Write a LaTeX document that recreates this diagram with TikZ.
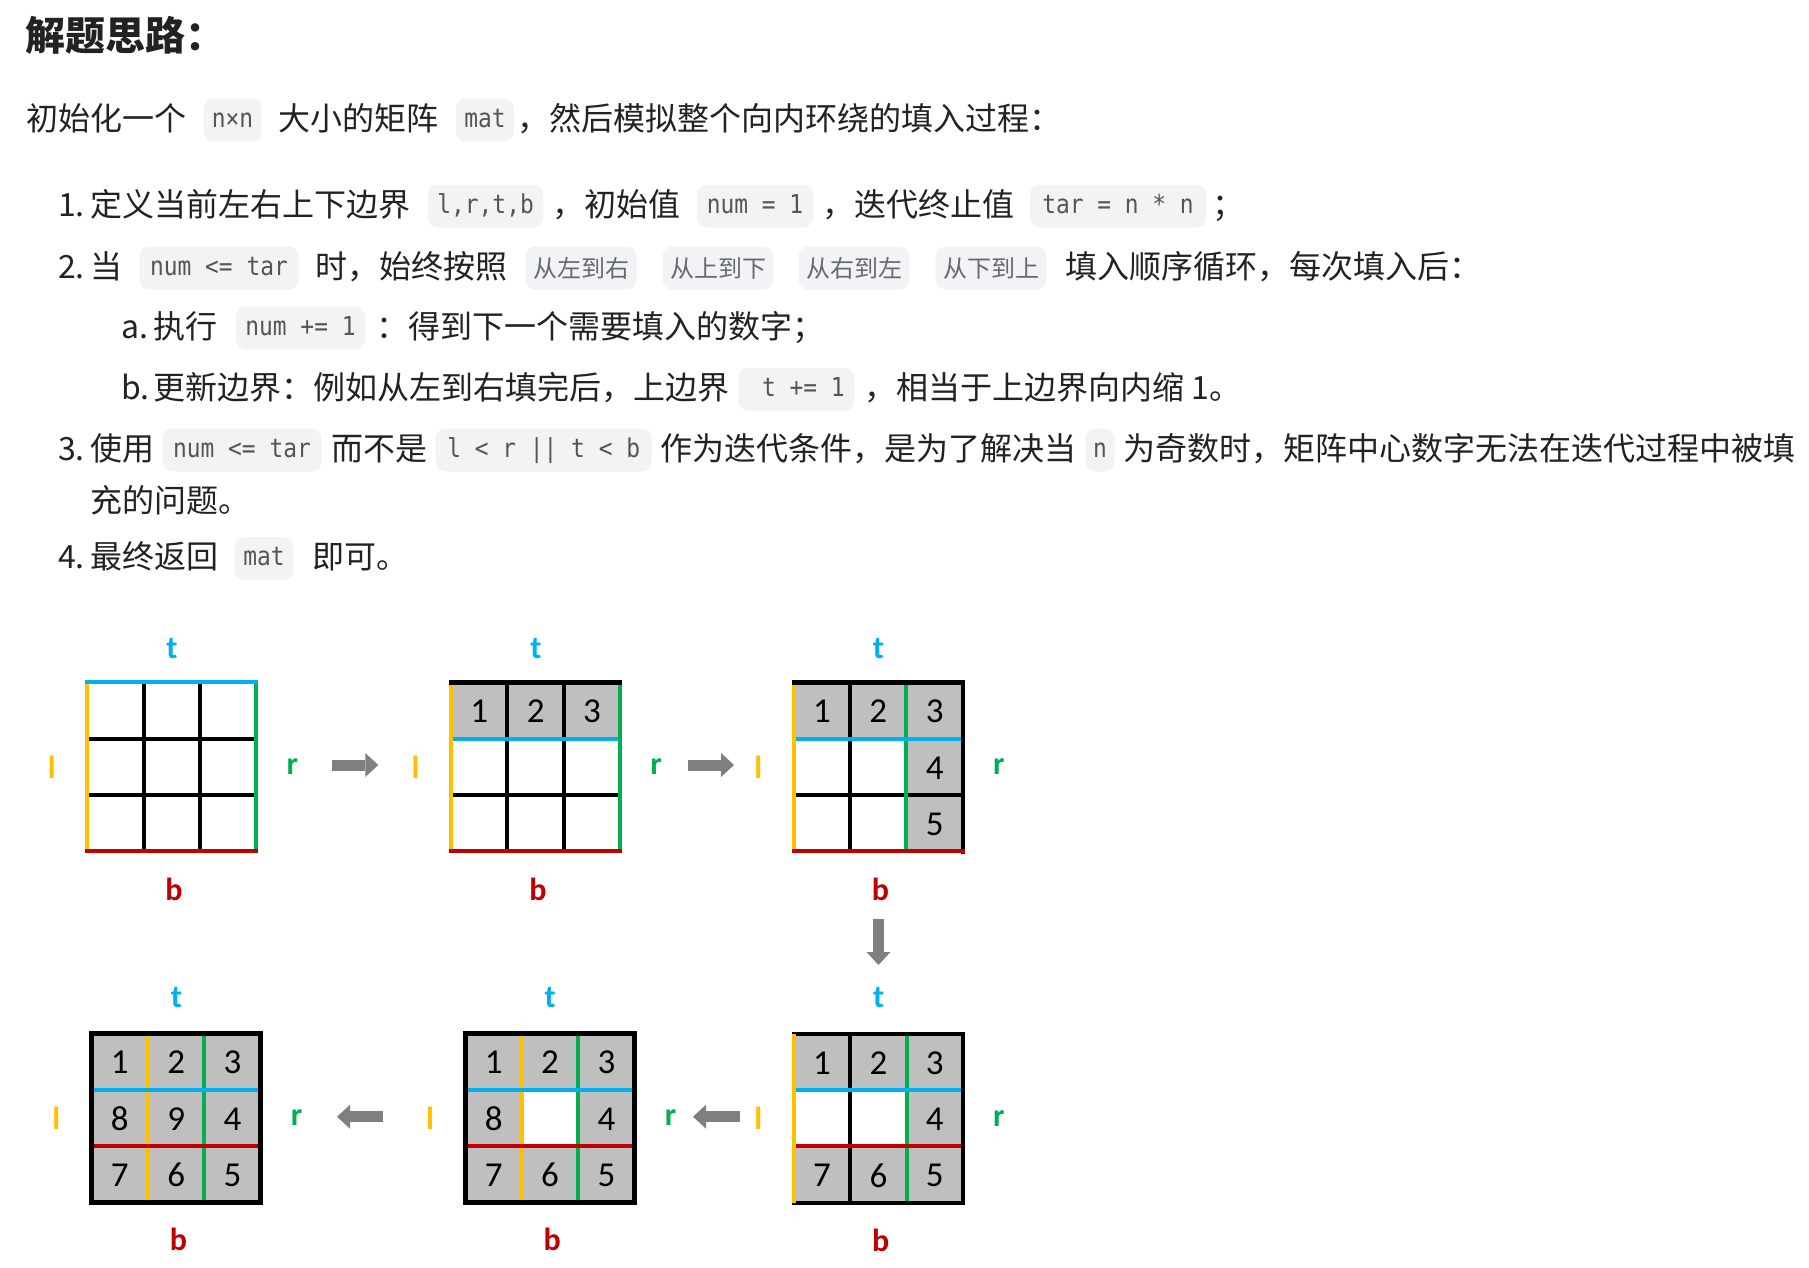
\documentclass[tikz,border=0pt]{standalone}
\usepackage{fontspec}
\setmainfont{Noto Sans CJK SC}
\newfontfamily\codefont{DejaVu Sans Mono}[FakeStretch=0.88]
\newfontfamily\calfont{Carlito}
\usetikzlibrary{calc,arrows.meta}
\definecolor{bodyc}{HTML}{222222}
\definecolor{codetxt}{HTML}{555555}
\definecolor{cjkcodetxt}{HTML}{646A73}
\definecolor{codebg}{HTML}{F2F3F5}
\definecolor{tcol}{HTML}{00B0F0}
\definecolor{lcol}{HTML}{FFC000}
\definecolor{rcol}{HTML}{00B050}
\definecolor{bcol}{HTML}{C00000}
\definecolor{cellg}{HTML}{BFBFBF}
\definecolor{arrg}{HTML}{7F7F7F}
\def\cw{56.333}
\def\gs{169}
\newcommand\gridlbl[3]{%
 \node[edgelab,text=tcol] (#1t) at ($(#1.north)+(0,-#2)$) {t};
 \node[edgelab,text=bcol] (#1b) at ($(#1.south)+(2,#3)$) {b};
 \node[edgelab,text=lcol] (#1l) at ($(#1.west)+(-35.5,0)$) {l};
 \node[edgelab,text=rcol] (#1r) at ($(#1.east)+(35.5,0)$) {r};}
\newcommand\cellnum[4]{\node[cellnumsty] (#1) at ({(#2+0.5)*\cw},{(#3+0.5)*\cw+1}) {#4};}
\newcommand\cellfill[2]{\fill[cellg] ({#1*\cw},{#2*\cw}) rectangle ++(\cw,\cw);}
\begin{document}
\begin{tikzpicture}[x=1pt,y=-1pt,
  bodytxt/.style={anchor=base west,inner sep=0pt,text=bodyc,font=\fontsize{32}{38}\selectfont},
  titletxt/.style={anchor=base west,inner sep=0pt,text=bodyc,font=\bfseries\fontsize{40}{48}\selectfont},
  codebox/.style={fill=codebg,rounded corners=10pt,minimum height=43pt,inner sep=0pt,text=codetxt,
    font=\codefont\fontsize{26}{30}\selectfont,text height=17pt,text depth=3pt},
  cjkbox/.style={codebox,minimum width=111pt,text=cjkcodetxt,font=\fontsize{24}{28}\selectfont,text height=20pt,text depth=2pt},
  gridframe/.style={minimum size=169pt,inner sep=0pt},
  edgelab/.style={inner sep=0pt,font=\calfont\bfseries\fontsize{32}{36}\selectfont},
  cellnumsty/.style={inner sep=0pt,text=black,font=\calfont\fontsize{35}{40}\selectfont},
  gin/.style={draw=black,line width=4pt},
  gout/.style={draw=black,line width=4.5pt,line cap=rect},
  ct/.style={draw=tcol,line width=4pt,line cap=rect},
  cl/.style={draw=lcol,line width=4pt,line cap=rect},
  cr/.style={draw=rcol,line width=4pt,line cap=rect},
  cb/.style={draw=bcol,line width=4pt,line cap=rect},
  blockarr/.style={draw=arrg,line width=11pt,-{Triangle[width=24pt,length=13pt,line width=0pt]}}
]
\useasboundingbox (0,0) rectangle (1809,1267);
\fill[white] (0,0) rectangle (1809,1267);

% ---------- text ----------
\node[titletxt] (title) at (25,50) {解题思路：};

\node[bodytxt] (l0a) at (26,130) {初始化一个};
\node[codebox,minimum width=58pt] (l0c1) at (232.5,120) {n×n};
\node[bodytxt] (l0b) at (278,130) {大小的矩阵};
\node[codebox,minimum width=58pt] (l0c2) at (485,120) {mat};
\node[bodytxt] (l0d) at (517,130) {，然后模拟整个向内环绕的填入过程：};

\node[bodytxt] (i1n) at (58,216) {1.};
\node[bodytxt] (i1a) at (90,216) {定义当前左右上下边界};
\node[codebox,minimum width=115.5pt] (i1c1) at (485.6,206) {l,r,t,b};
\node[bodytxt] (i1b) at (552,216) {，初始值};
\node[codebox,minimum width=116pt] (i1c2) at (755,206) {num = 1};
\node[bodytxt] (i1d) at (822,216) {，迭代终止值};
\node[codebox,minimum width=176pt] (i1c3) at (1118,206) {tar = n * n};
\node[bodytxt] (i1e) at (1212,216) {；};

\node[bodytxt] (i2n) at (58,278) {2.};
\node[bodytxt] (i2a) at (90,278) {当};
\node[codebox,minimum width=159pt] (i2c1) at (219,268) {num <= tar};
\node[bodytxt] (i2b) at (315.7,278) {时，始终按照};
\node[cjkbox] (i2c2) at (581,268) {从左到右};
\node[cjkbox] (i2c3) at (718,268) {从上到下};
\node[cjkbox] (i2c4) at (854,268) {从右到左};
\node[cjkbox] (i2c5) at (991,268) {从下到上};
\node[bodytxt] (i2d) at (1065,278) {填入顺序循环，每次填入后：};

\node[bodytxt] (ian) at (121,338) {a.};
\node[bodytxt] (iaa) at (153,338) {执行};
\node[codebox,minimum width=129pt] (iac) at (300.5,328) {num += 1};
\node[bodytxt] (iab) at (376,338) {：得到下一个需要填入的数字；};

\node[bodytxt] (ibn) at (121,399.5) {b.};
\node[bodytxt] (iba) at (153,399.5) {更新边界：例如从左到右填完后，上边界};
\node[codebox,minimum width=116pt] (ibc) at (796.5,389.5) {\ t += 1};
\node[bodytxt] (ibb) at (864,399.5) {，相当于上边界向内缩 1。};

\node[bodytxt] (i3n) at (58,460) {3.};
\node[bodytxt] (i3a) at (90,460) {使用};
\node[codebox,minimum width=159pt] (i3c1) at (242,450) {num <= tar};
\node[bodytxt] (i3b) at (331.6,460) {而不是};
\node[codebox,minimum width=216pt] (i3c2) at (543.7,450) {l < r || t < b};
\node[bodytxt] (i3d) at (660,460) {作为迭代条件，是为了解决当};
\node[codebox,minimum width=29pt] (i3c3) at (1100,450) {n};
\node[bodytxt] (i3e) at (1123,460) {为奇数时，矩阵中心数字无法在迭代过程中被填};
\node[bodytxt] (i3f) at (90,512) {充的问题。};

\node[bodytxt] (i4n) at (58,568.5) {4.};
\node[bodytxt] (i4a) at (90,568.5) {最终返回};
\node[codebox,minimum width=58.7pt] (i4c) at (264,558.5) {mat};
\node[bodytxt] (i4b) at (312.5,568.5) {即可。};

% ---------- grid frames ----------
\node[gridframe] (G1) at (172,767) {};
\node[gridframe] (G2) at (535.85,767) {};
\node[gridframe] (G3) at (878.5,767) {};
\node[gridframe] (G4) at (176.4,1118) {};
\node[gridframe] (G5) at (550.25,1118) {};
\node[gridframe] (G6) at (878.6,1118.5) {};

% G1
\begin{scope}[shift={(G1.north west)}]
\draw[gin] (\cw,0) -- (\cw,\gs) ({2*\cw},0) -- ({2*\cw},\gs) (0,\cw) -- (\gs,\cw) (0,{2*\cw}) -- (\gs,{2*\cw});
\draw[cl] (0,0) -- (0,\gs);
\draw[cr] (\gs,0) -- (\gs,\gs);
\draw[ct] (0,0) -- (\gs,0);
\draw[cb] (0,\gs) -- (\gs,\gs);
\end{scope}

% G2
\begin{scope}[shift={(G2.north west)}]
\cellfill{0}{0}\cellfill{1}{0}\cellfill{2}{0}
\cellnum{G2a}{0}{0}{1}\cellnum{G2b}{1}{0}{2}\cellnum{G2c}{2}{0}{3}
\draw[gin] (\cw,0) -- (\cw,\gs) ({2*\cw},0) -- ({2*\cw},\gs) (0,{2*\cw}) -- (\gs,{2*\cw});
\draw[ct] (0,\cw) -- (\gs,\cw);
\draw[cl] (0,0) -- (0,\gs);
\draw[cr] (\gs,0) -- (\gs,\gs);
\draw[cb] (0,\gs) -- (\gs,\gs);
\draw[gout] (0,0) -- (\gs,0);
\end{scope}

% G3
\begin{scope}[shift={(G3.north west)}]
\cellfill{0}{0}\cellfill{1}{0}\cellfill{2}{0}\cellfill{2}{1}\cellfill{2}{2}
\cellnum{G3a}{0}{0}{1}\cellnum{G3b}{1}{0}{2}\cellnum{G3c}{2}{0}{3}
\cellnum{G3d}{2}{1}{4}\cellnum{G3e}{2}{2}{5}
\draw[gin] (\cw,0) -- (\cw,\gs) (0,{2*\cw}) -- (\gs,{2*\cw});
\draw[cr] ({2*\cw},0) -- ({2*\cw},\gs);
\draw[ct] (0,\cw) -- (\gs,\cw);
\draw[cl] (0,0) -- (0,\gs);
\draw[gout] (0,0) -- (\gs,0) -- (\gs,\gs);
\draw[cb] (0,\gs) -- (\gs,\gs);
\end{scope}

% G6
\begin{scope}[shift={(G6.north west)}]
\cellfill{0}{0}\cellfill{1}{0}\cellfill{2}{0}\cellfill{2}{1}
\cellfill{0}{2}\cellfill{1}{2}\cellfill{2}{2}
\cellnum{G6a}{0}{0}{1}\cellnum{G6b}{1}{0}{2}\cellnum{G6c}{2}{0}{3}
\cellnum{G6d}{2}{1}{4}
\cellnum{G6e}{0}{2}{7}\cellnum{G6f}{1}{2}{6}\cellnum{G6g}{2}{2}{5}
\draw[gin] (\cw,0) -- (\cw,\gs);
\draw[cr] ({2*\cw},0) -- ({2*\cw},\gs);
\draw[ct] (0,\cw) -- (\gs,\cw);
\draw[cb] (0,{2*\cw}) -- (\gs,{2*\cw});
\draw[gout] (0,\gs) -- (\gs,\gs) -- (\gs,0) -- (0,0);
\draw[cl] (0,2) -- (0,{\gs-2});
\end{scope}

% G5
\begin{scope}[shift={(G5.north west)}]
\cellfill{0}{0}\cellfill{1}{0}\cellfill{2}{0}\cellfill{0}{1}\cellfill{2}{1}
\cellfill{0}{2}\cellfill{1}{2}\cellfill{2}{2}
\cellnum{G5a}{0}{0}{1}\cellnum{G5b}{1}{0}{2}\cellnum{G5c}{2}{0}{3}
\cellnum{G5d}{0}{1}{8}\cellnum{G5e}{2}{1}{4}
\cellnum{G5f}{0}{2}{7}\cellnum{G5g}{1}{2}{6}\cellnum{G5h}{2}{2}{5}
\draw[cl] (\cw,0) -- (\cw,\gs);
\draw[cr] ({2*\cw},0) -- ({2*\cw},\gs);
\draw[ct] (0,\cw) -- (\gs,\cw);
\draw[cb] (0,{2*\cw}) -- (\gs,{2*\cw});
\draw[gout] (0,0) rectangle (\gs,\gs);
\end{scope}

% G4
\begin{scope}[shift={(G4.north west)}]
\fill[cellg] (0,0) rectangle (\gs,\gs);
\cellnum{G4a}{0}{0}{1}\cellnum{G4b}{1}{0}{2}\cellnum{G4c}{2}{0}{3}
\cellnum{G4d}{0}{1}{8}\cellnum{G4e}{1}{1}{9}\cellnum{G4f}{2}{1}{4}
\cellnum{G4g}{0}{2}{7}\cellnum{G4h}{1}{2}{6}\cellnum{G4i}{2}{2}{5}
\draw[cl] (\cw,0) -- (\cw,\gs);
\draw[cr] ({2*\cw},0) -- ({2*\cw},\gs);
\draw[ct] (0,\cw) -- (\gs,\cw);
\draw[cb] (0,{2*\cw}) -- (\gs,{2*\cw});
\draw[gout] (0,0) rectangle (\gs,\gs);
\end{scope}

% labels
\gridlbl{G1}{34}{38}
\gridlbl{G2}{34}{38}
\gridlbl{G3}{34}{38}
\gridlbl{G4}{36}{37}
\gridlbl{G5}{36}{37}
\gridlbl{G6}{36}{37}

% arrows
\coordinate (A1s) at (331.7,765); \coordinate (A1e) at (378.3,765);
\coordinate (A2s) at (688,765);   \coordinate (A2e) at (734,765);
\coordinate (A3s) at (878.5,919); \coordinate (A3e) at (878.5,965);
\coordinate (A4s) at (740,1116.7); \coordinate (A4e) at (693,1116.7);
\coordinate (A5s) at (383,1116.7); \coordinate (A5e) at (337,1116.7);
\draw[blockarr] (A1s) -- (A1e);
\draw[blockarr] (A2s) -- (A2e);
\draw[blockarr] (A3s) -- (A3e);
\draw[blockarr] (A4s) -- (A4e);
\draw[blockarr] (A5s) -- (A5e);
\end{tikzpicture}
\end{document}
